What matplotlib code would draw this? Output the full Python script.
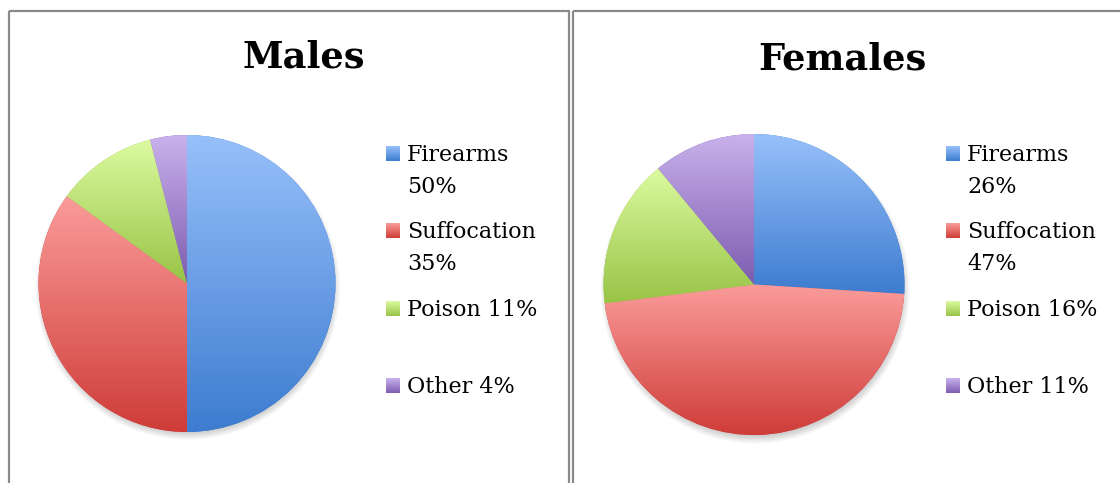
import numpy as np
import matplotlib
matplotlib.use("Agg")
import matplotlib.pyplot as plt
from matplotlib.patches import Rectangle
from matplotlib.colors import to_rgb

plt.rcParams['font.family'] = ['DejaVu Serif']

# data
categories = ['Firearms', 'Suffocation', 'Poison', 'Other']
males = [50, 35, 11, 4]
females = [26, 47, 16, 11]
# legend label layout: name and value on one line or two
males_labels = ['Firearms\n50%', 'Suffocation\n35%', 'Poison 11%', 'Other 4%']
females_labels = ['Firearms\n26%', 'Suffocation\n47%', 'Poison 16%', 'Other 11%']

# light (top) -> dark (bottom) fill for each slice
shades = {
    'Firearms': ('#97c0fa', '#3d7cd0'),
    'Suffocation': ('#fa9c9a', '#cf3c38'),
    'Poison': ('#dcfaa0', '#98c446'),
    'Other': ('#c9b2ec', '#7d5cb0'),
}

W, H = 1120, 483
fig = plt.figure(figsize=(W / 100, H / 100), dpi=100)

# overlay in pixel coordinates for frames, titles and legends
ov = fig.add_axes([0, 0, 1, 1])
ov.set_xlim(0, W)
ov.set_ylim(H, 0)
ov.axis('off')


def gradient(c_top, c_bot, n=256):
    t = np.linspace(0, 1, n)[:, None]
    a, b = np.array(to_rgb(c_top)), np.array(to_rgb(c_bot))
    img = a[None, :] * (1 - t[..., None]) + b[None, :] * t[..., None]
    return img


# chart frames (double line between the two panels)
for x0, x1 in [(9, 569), (573, 1140)]:
    ov.add_patch(Rectangle((x0, 11), x1 - x0, 500, fill=False,
                           edgecolor='#8a8a8a', lw=1.6, zorder=1))


def draw_pie(cx, cy, R, values, title, tx, ty, labels, lx):
    pad = 1.15
    ax = fig.add_axes([(cx - pad * R) / W, (H - cy - pad * R) / H,
                       2 * pad * R / W, 2 * pad * R / H])
    # soft drop shadow
    g = np.linspace(-pad, pad, 400)
    X, Y = np.meshgrid(g, g[::-1])
    d = np.sqrt((X - 0.005) ** 2 + (Y + 0.03) ** 2)
    alpha = np.clip((1.03 - d) / 0.07, 0, 1) * 0.45
    sh = np.zeros((400, 400, 4))
    sh[..., :3] = 0.45
    sh[..., 3] = alpha
    ax.imshow(sh, extent=(-pad, pad, -pad, pad), zorder=0, interpolation='bilinear')

    wedges, _ = ax.pie(values, startangle=90, counterclock=False, radius=1,
                       colors=[shades[c][1] for c in categories],
                       wedgeprops=dict(linewidth=0))
    for w, c in zip(wedges, categories):
        v = w.get_path().vertices
        x0, x1 = v[:, 0].min(), v[:, 0].max()
        y0, y1 = v[:, 1].min(), v[:, 1].max()
        im = ax.imshow(gradient(*shades[c]), extent=(x0, x1, y0, y1),
                       aspect='auto', zorder=3, interpolation='bilinear')
        im.set_clip_path(w)
    ax.set_xlim(-pad, pad)
    ax.set_ylim(-pad, pad)
    ax.set_aspect('equal')
    ax.axis('off')

    ov.text(tx, ty, title, ha='center', va='baseline', fontsize=26.5,
            fontweight='bold', color='black')

    # legend
    ys = [161, 238, 316, 393]
    for lab, c, yb in zip(labels, categories, ys):
        ov.imshow(gradient(*shades[c]), extent=(lx, lx + 14, yb, yb - 15),
                  aspect='auto', zorder=2, interpolation='bilinear')
        lines = lab.split('\n')
        for k, line in enumerate(lines):
            ov.text(lx + 21, yb + 32 * k, line, ha='left', va='baseline',
                    fontsize=16, color='black')


draw_pie(187, 283.5, 148.5, males, 'Males', 303.5, 67, males_labels, 386)
draw_pie(754, 284.5, 150.5, females, 'Females', 842, 70, females_labels, 946)

ov.set_xlim(0, W)
ov.set_ylim(H, 0)
ov.set_aspect('auto')

fig.savefig('out.png', dpi=100)
